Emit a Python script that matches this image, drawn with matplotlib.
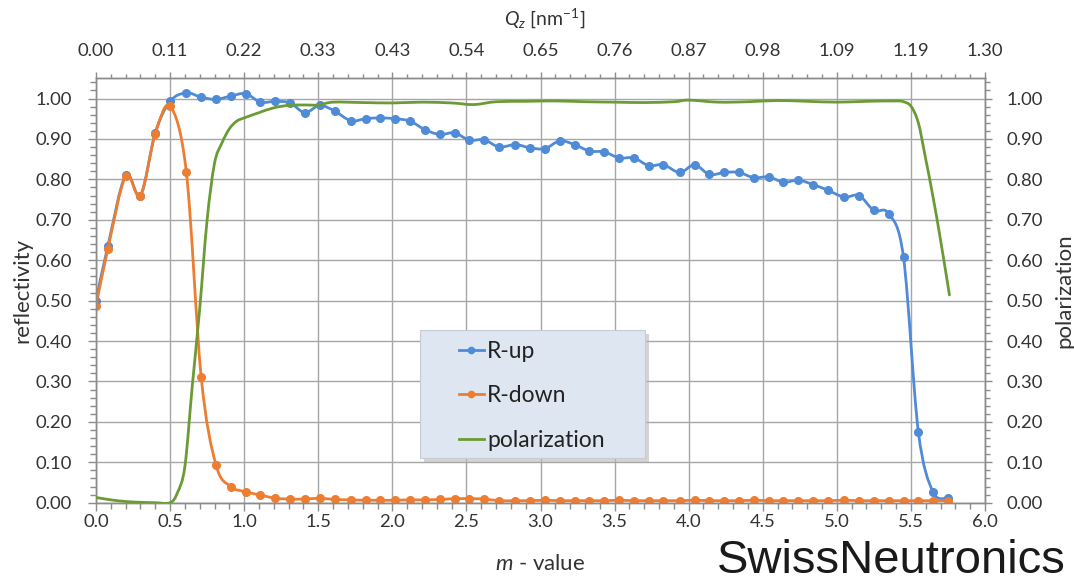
import numpy as np
import matplotlib
matplotlib.use("Agg")
import matplotlib.pyplot as plt
from matplotlib.path import Path
from matplotlib.patches import PathPatch, Rectangle
from matplotlib.lines import Line2D
from matplotlib.ticker import MultipleLocator, FormatStrFormatter

# m-value of every measured point (R-up and R-down share them)
m_points = [0.00, 0.08, 0.20, 0.30, 0.40, 0.50, 0.61, 0.71, 0.81, 0.91,
            1.01, 1.11, 1.21, 1.31, 1.41, 1.51, 1.61, 1.72, 1.82, 1.92,
            2.02, 2.12, 2.22, 2.32, 2.42, 2.52, 2.62, 2.72, 2.83, 2.93,
            3.03, 3.13, 3.23, 3.33, 3.43, 3.53, 3.63, 3.73, 3.83, 3.94,
            4.04, 4.14, 4.24, 4.34, 4.44, 4.54, 4.64, 4.74, 4.84, 4.94,
            5.05, 5.15, 5.25, 5.35, 5.45, 5.55, 5.65, 5.75]

r_up = [0.500, 0.635, 0.810, 0.760, 0.915, 0.993, 1.014, 1.003, 0.998, 1.006,
        1.012, 0.991, 0.993, 0.989, 0.965, 0.983, 0.969, 0.945, 0.950, 0.952,
        0.950, 0.944, 0.923, 0.911, 0.915, 0.897, 0.898, 0.880, 0.886, 0.878,
        0.876, 0.895, 0.886, 0.870, 0.868, 0.853, 0.853, 0.834, 0.836, 0.817,
        0.836, 0.812, 0.817, 0.817, 0.804, 0.806, 0.793, 0.798, 0.787, 0.773,
        0.756, 0.760, 0.723, 0.715, 0.607, 0.176, 0.026, 0.012]

r_down = [0.487, 0.628, 0.808, 0.760, 0.913, 0.981, 0.817, 0.311, 0.093, 0.040,
          0.027, 0.019, 0.011, 0.009, 0.009, 0.011, 0.008, 0.007, 0.006, 0.006,
          0.006, 0.007, 0.007, 0.008, 0.010, 0.010, 0.009, 0.005, 0.005, 0.005,
          0.006, 0.005, 0.005, 0.005, 0.005, 0.006, 0.005, 0.005, 0.005, 0.005,
          0.006, 0.005, 0.005, 0.005, 0.006, 0.005, 0.005, 0.005, 0.005, 0.005,
          0.006, 0.005, 0.005, 0.005, 0.005, 0.005, 0.005, 0.005]

# polarization curve (right axis)
pol_m = [0.0, 0.1, 0.2, 0.3, 0.4, 0.5, 0.55, 0.6, 0.65, 0.7, 0.75, 0.8, 0.85,
         0.9, 0.95, 1.0, 1.1, 1.2, 1.3, 1.4, 1.5, 1.6, 1.8, 2.0, 2.2, 2.4,
         2.55, 2.7, 2.9, 3.1, 3.3, 3.5, 3.7, 3.9, 4.0, 4.2, 4.4, 4.6, 4.8,
         5.0, 5.2, 5.4, 5.45, 5.5, 5.55, 5.6, 5.65, 5.7, 5.76]
pol = [0.013, 0.007, 0.003, 0.001, 0.0, 0.0, 0.025, 0.09, 0.29, 0.48, 0.70,
       0.84, 0.89, 0.925, 0.944, 0.952, 0.965, 0.977, 0.983, 0.984, 0.984,
       0.991, 0.990, 0.989, 0.991, 0.989, 0.985, 0.992, 0.993, 0.994, 0.992,
       0.991, 0.990, 0.992, 0.996, 0.991, 0.992, 0.995, 0.993, 0.991, 0.993,
       0.994, 0.992, 0.981, 0.940, 0.850, 0.755, 0.650, 0.514]

m_ticks = [0.0, 0.5, 1.0, 1.5, 2.0, 2.5, 3.0, 3.5, 4.0, 4.5, 5.0, 5.5, 6.0]
qz_labels = ["0.00", "0.11", "0.22", "0.33", "0.43", "0.54", "0.65",
             "0.76", "0.87", "0.98", "1.09", "1.19", "1.30"]

BLUE = "#4f8bd6"
ORANGE = "#ed7d31"
GREEN = "#6b9b35"
GRID = "#a6a6a6"
AXC = "#8c8c8c"
TXT = "#333333"
TICK_FS = 13.3
LABEL_FS = 16

plt.rcParams["font.family"] = ["Lato", "DejaVu Sans"]
plt.rcParams["mathtext.fontset"] = "custom"
plt.rcParams["mathtext.rm"] = "Lato"
plt.rcParams["mathtext.it"] = "Lato:italic"


def smooth_path(x, y):
    # Excel-style smoothed line: cubic bezier through every point
    pts = np.column_stack([x, y]).astype(float)
    n = len(pts)
    verts = [pts[0]]
    codes = [Path.MOVETO]
    for i in range(n - 1):
        p0 = pts[i - 1] if i > 0 else pts[i]
        p1, p2 = pts[i], pts[i + 1]
        p3 = pts[i + 2] if i + 2 < n else pts[i + 1]
        verts += [p1 + (p2 - p0) / 6.0, p2 - (p3 - p1) / 6.0, p2]
        codes += [Path.CURVE4] * 3
    return Path(verts, codes)


def draw_series(ax, x, y, color, marker=True, z=3):
    ax.add_patch(PathPatch(smooth_path(x, y), fill=False, edgecolor=color,
                           lw=2.0, zorder=z, capstyle="round", joinstyle="round"))
    if marker:
        ax.plot(x, y, "o", color=color, ms=5.5, zorder=z + 0.1)


fig = plt.figure(figsize=(10.74, 5.83), dpi=100)
ax = fig.add_axes([96 / 1074, 1 - 502.7 / 583, 889 / 1074, 424.4 / 583])
ax2 = ax.twinx()

draw_series(ax, m_points, r_up, BLUE, z=3)
draw_series(ax, m_points, r_down, ORANGE, z=4)
draw_series(ax2, pol_m, pol, GREEN, marker=False, z=3)

for a in (ax, ax2):
    a.set_ylim(0, 1.05)
    a.set_xlim(0, 6)
    a.yaxis.set_major_locator(MultipleLocator(0.1))
    a.yaxis.set_minor_locator(MultipleLocator(0.02))
    a.yaxis.set_major_formatter(FormatStrFormatter("%.2f"))
    for s in a.spines.values():
        s.set_color(AXC)
        s.set_linewidth(1.0)

ax.set_xticks(m_ticks)
ax.set_xticklabels([f"{v:.1f}" for v in m_ticks])
ax.xaxis.set_minor_locator(MultipleLocator(0.1))
ax.grid(True, which="major", color=GRID, lw=1.0)
ax.set_axisbelow(True)

ax.tick_params(axis="both", which="major", labelsize=TICK_FS, labelcolor=TXT,
               color=AXC, length=5.8, width=1)
ax.tick_params(axis="both", which="minor", color=AXC, length=4, width=1)
ax.tick_params(axis="y", which="major", pad=11.5)
ax.tick_params(axis="x", which="major", pad=2.5)
ax2.tick_params(axis="y", which="major", labelsize=TICK_FS, labelcolor=TXT,
                color=AXC, length=5, width=1, pad=10.5)
ax2.tick_params(axis="y", which="minor", color=AXC, length=3.5, width=1)

# top axis: Q_z in nm^-1, same positions as the m grid
top = ax.secondary_xaxis("top")
top.set_xticks(m_ticks, labels=qz_labels)
top.xaxis.set_minor_locator(MultipleLocator(0.1))
top.tick_params(axis="x", which="major", labelsize=TICK_FS, labelcolor=TXT,
                color=AXC, length=4.5, width=1, pad=9.5)
top.tick_params(axis="x", which="minor", color=AXC, length=3, width=1)
top.spines["top"].set_color(AXC)

ax.set_ylabel("reflectivity", fontsize=LABEL_FS, color=TXT, va="center", ha="center")
ax.yaxis.set_label_coords(-0.083, 0.5)
ax2.set_ylabel("polarization", fontsize=LABEL_FS, color=TXT, rotation=90,
               va="center", ha="center")
ax2.yaxis.set_label_coords(1.0895, 0.5)
ax.set_xlabel(r"$m$ - value", fontsize=LABEL_FS, color=TXT, va="center", ha="center")
ax.xaxis.set_label_coords(0.5, -0.145)
fig.text(545 / 1074, 1 - 18 / 583, r"$Q_z$ [nm$^{-1}$]", fontsize=14,
         color=TXT, ha="center", va="center")

# legend box with shadow
x0, y0, w, h = 0.3645, 0.105, 0.253, 0.302
ax2.add_patch(Rectangle((x0 + 4 / 889, y0 - 4 / 424.4), w, h, transform=ax2.transAxes,
                        facecolor="#b8b8b8", edgecolor="none", alpha=0.6, zorder=5))
ax2.add_patch(Rectangle((x0, y0), w, h, transform=ax2.transAxes,
                        facecolor="#dde6f1", edgecolor="#c8ccd2", lw=0.8, zorder=6))
handles = [
    Line2D([], [], color=BLUE, lw=2, marker="o", ms=4.5),
    Line2D([], [], color=ORANGE, lw=2, marker="o", ms=4.5),
    Line2D([], [], color=GREEN, lw=2),
]
leg = ax2.legend(handles, ["R-up", "R-down", "polarization"], loc="upper left",
                 bbox_to_anchor=(0.408, 0.381), frameon=False, fontsize=16.5,
                 handlelength=1.1, handletextpad=0.15, labelspacing=1.02,
                 borderpad=0, borderaxespad=0)
leg.set_zorder(7)
for t in leg.get_texts():
    t.set_color("#222222")

fig.text(1066 / 1074, 1 - 573 / 583, "SwissNeutronics", fontsize=34,
         family="Liberation Sans", color="#1a1a1a", ha="right", va="baseline")

fig.savefig("out.png", dpi=100, facecolor="white")
